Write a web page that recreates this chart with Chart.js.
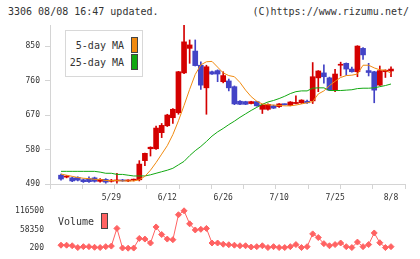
<!DOCTYPE html>
<html>
<head>
<meta charset="utf-8">
<script src="https://cdn.jsdelivr.net/npm/chart.js@4.4.0/dist/chart.umd.min.js"></script>
<style>
html, body { margin: 0; padding: 0; background: #fff; }
body { width: 420px; height: 259px; position: relative; overflow: hidden; font-family: "DejaVu Sans Mono", monospace; color: #333; }
.txt { position: absolute; font-size: 10px; line-height: 12px; white-space: pre; }
.sw { position: absolute; width: 7px; height: 16px; border: 1px solid #444; box-sizing: border-box; }
#price { position: absolute; left: 0; top: 0; }
#volume { position: absolute; left: 0; top: 200px; }
#legendBox { position: absolute; left: 65px; top: 30px; width: 78px; height: 47px; border: 1px solid #d8d8d8; box-sizing: border-box; background: #fff; }
</style>
</head>
<body>
<div class="txt" style="left:8px; top:6px;">3306 08/08 16:47 updated.</div>
<div class="txt" style="right:11px; top:6px;">(C)https://www.rizumu.net/</div>

<canvas id="price" width="420" height="205"></canvas>
<canvas id="volume" width="420" height="59"></canvas>

<div id="legendBox"></div>
<div class="txt" style="right:296px; top:40px;">5-day MA</div>
<div class="txt" style="right:296px; top:57px;">25-day MA</div>
<div class="sw" style="left:131px; top:37px; background:#f08a10;"></div>
<div class="sw" style="left:131px; top:54px; background:#12a812;"></div>

<div class="txt" style="left:58px; top:216px;">Volume</div>
<div class="sw" style="left:101px; top:213px; background:#ff6262;"></div>

<script>
// daily candles 5/16 .. 8/8, one entry per trading day
var openP = [513, 508, 506, 507, 501, 504, 506, 497, 502, 497,
             498, 500, 498, 500, 501, 551, 582, 582, 624, 642,
             663, 676, 780, 844, 837, 800, 741, 783, 786, 757,
             759, 744, 706, 705, 700, 705, 685, 685, 694, 692,
             698, 695, 700, 702, 706, 707, 767, 780, 767, 735,
             800, 805, 790, 783, 844, 786, 783, 748, 783, 785];
var highP = [516, 512, 508, 509, 503, 509, 508, 504, 504, 502,
             518, 502, 501, 503, 551, 571, 587, 641, 648, 672,
             687, 784, 905, 866, 866, 809, 800, 785, 788, 783,
             764, 746, 708, 706, 706, 706, 698, 699, 696, 700,
             699, 705, 720, 710, 709, 807, 786, 801, 769, 789,
             808, 806, 795, 851, 846, 805, 784, 798, 788, 796];
var lowP = [500, 506, 496, 498, 494, 494, 495, 495, 492, 495,
            492, 497, 496, 498, 498, 538, 563, 580, 611, 640,
            648, 672, 778, 805, 798, 737, 672, 776, 757, 754,
            733, 697, 697, 697, 699, 693, 674, 683, 687, 690,
            696, 694, 699, 700, 700, 700, 731, 753, 734, 731,
            772, 774, 782, 770, 815, 772, 702, 747, 768, 770];
var closeP = [503, 510, 498, 500, 496, 496, 497, 502, 495, 500,
              500, 498, 500, 502, 542, 570, 586, 636, 643, 670,
              685, 783, 861, 853, 799, 748, 796, 777, 777, 773,
              741, 699, 698, 698, 705, 694, 696, 698, 688, 699,
              697, 704, 703, 709, 702, 770, 785, 770, 735, 777,
              802, 790, 783, 850, 827, 781, 735, 786, 787, 790];

var ma5 = [516, 513, 510, 507, 505, 504, 502, 502, 499, 499,
           499, 498, 498, 498, 501, 510, 526, 546, 568, 590,
           619, 655, 695, 737, 776, 801, 809, 810, 795, 780,
           773, 770, 755, 735, 718, 706, 699, 697, 696, 695,
           694, 694, 696, 699, 702, 705, 725, 733, 747, 758,
           768, 773, 774, 777, 800, 800, 793, 788, 787, 779];
var ma25 = [523, 523, 523, 523, 523, 523, 523, 521, 518, 518,
            515, 515, 513, 511, 511, 511, 514, 518, 522, 526,
            531, 540, 549, 564, 577, 588, 601, 615, 626, 635,
            645, 654, 664, 673, 682, 690, 698, 704, 708, 713,
            719, 726, 731, 733, 733, 740, 741, 741, 734, 734,
            734, 735, 736, 739, 740, 740, 741, 744, 747, 751];

var volume = [9560, 9560, 7860, 2190, 5020, 5020, 3040, 2190, 5020, 6720,
              61750, 800, 200, 600, 30550, 28570, 16370, 66300, 42750, 28570,
              26580, 104300, 116500, 75940, 56930, 58920, 61750, 16370, 16370, 12400,
              11000, 9560, 7860, 7860, 3890, 5020, 7860, 2190, 5020, 2190,
              2190, 5020, 11550, 2190, 5020, 44740, 33390, 14380, 7860, 11550,
              16370, 5020, 2190, 19200, 5020, 11550, 47570, 17220, 2190, 5020];

var dateLabelIdx = [9, 19, 29, 39, 49, 59];
var dateLabels = ['5/29', '6/12', '6/26', '7/10', '7/25', '8/8'];
var priceTicks = [490, 580, 670, 760, 850];
var volumeTicks = [200, 58350, 116500];

var PRICE_MIN = 490, PRICE_MAX = 905;
var VOL_MIN = 200, VOL_MAX = 116500;
var X_MIN = -1.967, X_MAX = 61.503;

var RED = '#d40000', BLUE = '#4343c6';
var ORANGE = '#f08a10', GREEN = '#12a812', VOLC = '#ff6262';
var AXIS = '#d4d4d4', TEXT = '#333';
var FONT = '"DejaVu Sans Mono", monospace';

function toPoints(arr) {
    var out = [];
    for (var i = 0; i < arr.length; i++) out.push({ x: i, y: arr[i] });
    return out;
}

function candleColors() {
    var c = [];
    for (var i = 0; i < openP.length; i++) c.push(closeP[i] >= openP[i] ? RED : BLUE);
    return c;
}

function plainNumber(v) { return String(v); }

function renderPrice() {
    var bodies = [], wicks = [];
    for (var i = 0; i < openP.length; i++) {
        bodies.push({ x: i, y: [openP[i], closeP[i]] });
        wicks.push({ x: i, y: [lowP[i], highP[i]] });
    }
    var colors = candleColors();

    new Chart(document.getElementById('price'), {
        type: 'bar',
        data: {
            datasets: [
                { type: 'line', data: toPoints(ma5), borderColor: ORANGE, borderWidth: 1, pointRadius: 0, tension: 0, order: 0 },
                { type: 'line', data: toPoints(ma25), borderColor: GREEN, borderWidth: 1, pointRadius: 0, tension: 0, order: 0 },
                { data: bodies, backgroundColor: colors, barThickness: 5, minBarLength: 1, grouped: false, order: 1 },
                { data: wicks, backgroundColor: colors, barThickness: 1, grouped: false, order: 2 }
            ]
        },
        options: {
            responsive: false,
            animation: false,
            layout: { padding: { left: 0, right: 15, top: 25, bottom: 0 } },
            plugins: { legend: { display: false }, tooltip: { enabled: false } },
            scales: {
                x: {
                    type: 'linear', min: X_MIN, max: X_MAX, offset: false,
                    afterBuildTicks: function (scale) {
                        var t = [];
                        for (var k = 0; k <= 11; k++) t.push({ value: X_MIN + k * (X_MAX - X_MIN) / 11 });
                        for (var j = 0; j < dateLabelIdx.length; j++) t.push({ value: dateLabelIdx[j] });
                        scale.ticks = t;
                    },
                    afterFit: function (scale) { scale.height = 21; },
                    grid: {
                        drawOnChartArea: false, drawTicks: true, tickLength: 5, offset: false,
                        color: function (ctx) {
                            return ctx.tick && dateLabelIdx.indexOf(ctx.tick.value) >= 0 ? 'rgba(0,0,0,0)' : AXIS;
                        }
                    },
                    border: { color: AXIS, width: 1 },
                    ticks: {
                        autoSkip: false, maxRotation: 0, padding: 4, color: TEXT,
                        font: { family: FONT, size: 8 },
                        callback: function (v) {
                            var k = dateLabelIdx.indexOf(v);
                            return k >= 0 ? dateLabels[k] : '';
                        }
                    }
                },
                y: {
                    min: PRICE_MIN, max: PRICE_MAX,
                    afterBuildTicks: function (scale) {
                        scale.ticks = priceTicks.map(function (v) { return { value: v }; });
                    },
                    afterFit: function (scale) { scale.width = 50; },
                    grid: { drawOnChartArea: false, drawTicks: true, tickLength: 5, color: AXIS },
                    border: { color: AXIS, width: 1 },
                    ticks: { padding: 5, color: TEXT, font: { family: FONT, size: 8 }, callback: plainNumber }
                }
            }
        }
    });
}

function renderVolume() {
    new Chart(document.getElementById('volume'), {
        type: 'line',
        data: {
            datasets: [{
                data: toPoints(volume),
                borderColor: VOLC, backgroundColor: VOLC, borderWidth: 1,
                pointStyle: 'rectRot', pointRadius: 3, pointBorderWidth: 1,
                tension: 0, clip: false
            }]
        },
        options: {
            responsive: false,
            animation: false,
            layout: { padding: { left: 0, right: 15, top: 9, bottom: 9 } },
            plugins: { legend: { display: false }, tooltip: { enabled: false } },
            scales: {
                x: { type: 'linear', min: X_MIN, max: X_MAX, display: false },
                y: {
                    min: VOL_MIN, max: VOL_MAX,
                    afterBuildTicks: function (scale) {
                        scale.ticks = volumeTicks.map(function (v) { return { value: v }; });
                    },
                    afterFit: function (scale) { scale.width = 50; },
                    grid: { display: false, drawTicks: false, tickLength: 0 },
                    border: { display: false },
                    ticks: { padding: 6, color: TEXT, font: { family: FONT, size: 8 }, callback: plainNumber }
                }
            }
        }
    });
}

renderPrice();
renderVolume();
</script>
</body>
</html>
